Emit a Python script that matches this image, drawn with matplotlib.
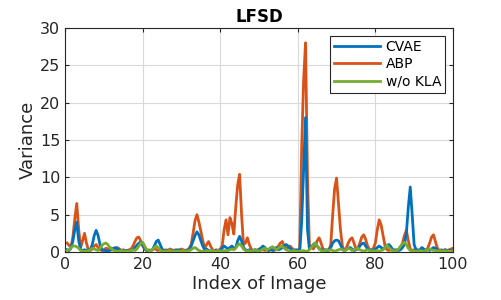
import numpy as np
import matplotlib
matplotlib.use("Agg")
import matplotlib.pyplot as plt

# index of image (half-step sampling)
idx = np.arange(0.5, 100.5, 0.5)

abp = [
    1.2, 0.9, 0.6, 2.0, 4.5, 6.5, 3.0, 0.6, 1.5, 2.5,
    1.2, 0.3, 0.2, 0.4, 0.8, 1.0, 0.6, 0.3, 0.2, 0.3,
    0.5, 0.4, 0.6, 0.5, 0.3, 0.4, 0.6, 0.4, 0.2, 0.3,
    0.2, 0.2, 0.3, 0.4, 0.8, 1.4, 1.9, 2.0, 1.5, 0.8,
    0.4, 0.2, 0.3, 0.2, 0.3, 0.5, 0.3, 0.2, 0.3, 0.2,
    0.2, 0.3, 0.2, 0.4, 0.3, 0.2, 0.3, 0.2, 0.3, 0.4,
    0.3, 0.2, 0.3, 0.5, 1.0, 2.5, 4.2, 5.0, 4.0, 2.8,
    1.5, 0.5, 1.0, 1.4, 0.8, 0.3, 0.2, 0.3, 0.2, 0.4,
    0.8, 3.0, 4.3, 2.3, 4.6, 3.8, 2.4, 6.0, 9.0, 10.4,
    5.0, 1.0, 1.2, 1.9, 1.0, 0.4, 0.2, 0.3, 0.2, 0.4,
    0.5, 0.3, 0.2, 0.3, 0.2, 0.4, 0.3, 0.2, 0.5, 0.8,
    1.2, 1.4, 0.8, 0.4, 0.6, 0.8, 0.5, 0.3, 0.2, 0.3,
    0.3, 14.0, 23.0, 28.0, 10.0, 0.5, 0.8, 0.4, 0.9, 1.5,
    1.9, 1.2, 0.4, 0.2, 0.3, 0.2, 1.0, 5.0, 8.5, 9.9,
    6.5, 3.0, 0.8, 0.2, 0.5, 1.2, 1.7, 1.9, 1.2, 0.4,
    0.5, 1.2, 2.0, 2.3, 1.7, 0.8, 0.3, 0.2, 0.5, 1.2,
    3.0, 4.3, 3.6, 2.2, 0.8, 0.3, 0.2, 0.3, 0.2, 0.3,
    0.2, 0.3, 0.5, 1.2, 2.2, 2.9, 1.5, 0.4, 0.2, 0.3,
    0.2, 0.3, 0.2, 0.2, 0.3, 0.2, 0.5, 1.2, 2.0, 2.3,
    1.4, 0.5, 0.2, 0.3, 0.2, 0.3, 0.2, 0.3, 0.4, 0.5,
]

cvae = [
    0.3, 0.2, 0.5, 1.5, 3.0, 4.0, 1.5, 0.3, 0.2, 0.3,
    0.2, 0.3, 0.3, 1.0, 2.2, 2.9, 2.2, 1.0, 0.3, 0.2,
    0.2, 0.1, 0.2, 0.3, 0.5, 0.6, 0.4, 0.3, 0.2, 0.2,
    0.1, 0.2, 0.1, 0.2, 0.3, 0.6, 0.9, 1.2, 1.3, 1.0,
    0.5, 0.2, 0.1, 0.2, 0.3, 0.8, 1.4, 1.6, 1.0, 0.4,
    0.2, 0.1, 0.2, 0.1, 0.2, 0.1, 0.2, 0.3, 0.2, 0.1,
    0.2, 0.1, 0.2, 0.3, 0.8, 1.5, 2.2, 2.7, 2.3, 1.5,
    0.8, 0.3, 0.4, 0.2, 0.1, 0.2, 0.1, 0.2, 0.1, 0.3,
    0.5, 0.8, 0.6, 0.4, 0.6, 0.8, 0.5, 0.6, 1.5, 2.1,
    1.5, 0.6, 0.3, 0.2, 0.3, 0.2, 0.1, 0.3, 0.2, 0.3,
    0.5, 0.8, 0.6, 0.3, 0.2, 0.3, 0.2, 0.4, 0.6, 0.3,
    0.4, 0.6, 0.8, 1.0, 0.8, 0.5, 0.3, 0.2, 0.3, 0.2,
    0.2, 4.0, 11.0, 18.0, 3.0, 0.4, 0.6, 1.0, 1.2, 0.8,
    0.5, 0.3, 0.2, 0.3, 0.2, 0.3, 0.6, 1.2, 1.5, 1.6,
    1.5, 1.0, 0.4, 0.2, 0.3, 0.5, 0.6, 0.4, 0.2, 0.3,
    0.4, 0.8, 1.1, 1.2, 0.8, 0.4, 0.2, 0.3, 0.2, 0.4,
    0.6, 0.8, 0.6, 0.4, 0.6, 0.9, 1.0, 0.7, 0.3, 0.2,
    0.3, 0.2, 0.3, 0.6, 1.0, 2.5, 6.0, 8.7, 5.0, 1.0,
    0.3, 0.2, 0.3, 0.6, 0.4, 0.2, 0.3, 0.2, 0.4, 0.6,
    0.5, 0.3, 0.2, 0.1, 0.2, 0.3, 0.2, 0.1, 0.2, 0.2,
]

wo_kla = [
    0.2, 0.3, 0.6, 0.8, 0.8, 0.7, 0.5, 0.2, 0.1, 0.1,
    0.1, 0.2, 0.3, 0.5, 0.4, 0.3, 0.2, 0.5, 0.9, 1.1,
    1.2, 1.0, 0.6, 0.4, 0.2, 0.1, 0.1, 0.1, 0.2, 0.1,
    0.1, 0.1, 0.1, 0.2, 0.3, 0.2, 0.4, 0.8, 1.2, 1.3,
    0.8, 0.3, 0.2, 0.1, 0.3, 0.6, 0.8, 0.6, 0.3, 0.1,
    0.1, 0.1, 0.1, 0.2, 0.1, 0.1, 0.1, 0.1, 0.1, 0.1,
    0.2, 0.1, 0.1, 0.2, 0.3, 0.5, 0.6, 0.4, 0.2, 0.1,
    0.1, 0.1, 0.2, 0.1, 0.1, 0.2, 0.1, 0.1, 0.2, 0.1,
    0.1, 0.2, 0.1, 0.2, 0.3, 0.4, 0.3, 0.5, 0.9, 1.1,
    0.8, 0.4, 0.2, 0.1, 0.2, 0.1, 0.2, 0.3, 0.2, 0.1,
    0.2, 0.4, 0.5, 0.3, 0.4, 0.6, 0.7, 0.5, 0.3, 0.5,
    0.7, 0.8, 0.5, 0.3, 0.2, 0.1, 0.1, 0.2, 0.1, 0.1,
    0.1, 0.1, 0.2, 0.1, 0.1, 0.3, 0.6, 0.9, 1.2, 0.8,
    0.4, 0.2, 0.1, 0.2, 0.3, 0.2, 0.3, 0.2, 0.1, 0.2,
    0.3, 0.4, 0.3, 0.2, 0.3, 0.5, 0.4, 0.2, 0.3, 0.4,
    0.5, 0.3, 0.2, 0.1, 0.2, 0.3, 0.2, 0.1, 0.2, 0.1,
    0.2, 0.1, 0.2, 0.3, 0.6, 0.9, 0.6, 0.3, 0.2, 0.1,
    0.2, 0.4, 0.8, 1.1, 1.3, 1.0, 0.5, 0.2, 0.1, 0.1,
    0.1, 0.1, 0.2, 0.1, 0.1, 0.2, 0.3, 0.4, 0.3, 0.2,
    0.2, 0.1, 0.2, 0.1, 0.1, 0.2, 0.1, 0.1, 0.1, 0.1,
]

BLUE   = "#0072BD"
ORANGE = "#D95319"
GREEN  = "#77AC30"
AXC    = "#262626"

fig = plt.figure(figsize=(5.01, 3.0), dpi=100)
ax = fig.add_axes([0.130, 0.160, 0.774, 0.747])

ax.plot(idx, cvae, color=BLUE, lw=2, label="CVAE", zorder=3)
ax.plot(idx, abp, color=ORANGE, lw=2, label="ABP", zorder=2)
ax.plot(idx, wo_kla, color=GREEN, lw=2, label="w/o KLA", zorder=4)

ax.set_xlim(0, 100)
ax.set_ylim(0, 30)
ax.set_xticks(range(0, 101, 20))
ax.set_yticks(range(0, 31, 5))
ax.grid(True, color="#d9d9d9", lw=0.8)
ax.set_axisbelow(True)

ax.tick_params(direction="in", top=True, right=True, length=3,
               labelsize=11.5, colors=AXC, width=0.8)
for sp in ax.spines.values():
    sp.set_color(AXC)
    sp.set_linewidth(0.8)

ax.set_xlabel("Index of Image", fontsize=13, color=AXC, labelpad=2)
ax.set_ylabel("Variance", fontsize=13, color=AXC, labelpad=2)
ax.set_title("LFSD", fontsize=12, weight="bold", color="black", pad=4)

leg = ax.legend(loc="upper right", fontsize=10, fancybox=False,
                edgecolor=AXC, framealpha=1, borderpad=0.3,
                handlelength=3.3, handletextpad=0.4, labelspacing=0.25,
                borderaxespad=0.55)
leg.get_frame().set_linewidth(0.8)

fig.savefig("out.png", dpi=100)
